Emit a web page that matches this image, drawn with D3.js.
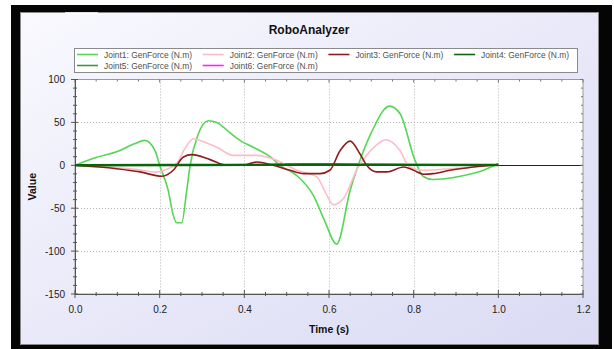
<!DOCTYPE html>
<html>
<head>
<meta charset="utf-8">
<script src="https://cdn.jsdelivr.net/npm/d3@7"></script>
<style>
body{margin:0;background:#fff;}
svg{display:block;font-family:"Liberation Sans",Arial,sans-serif;}
</style>
</head>
<body>
<div id="main_div"></div>
<script>
// series (time in s, value in N.m)
let joint1Time=[0,0.05,0.10,0.14,0.165,0.189,0.20,0.22,0.232,0.24,0.252,0.264,0.272,0.29,0.315,0.335,0.366,0.39,0.429,0.461,0.484,0.524,0.563,0.59,0.618,0.65,0.669,0.70,0.743,0.768,0.803,0.823,0.846,0.91,0.965,1.0];
let joint1Value=[0,9,16,25,29,17,0,-29,-58,-67,-67,-29,0,35,52,50,38,29,19,10,0,-12,-35,-65,-92,-29,0,38,69,60,6,-13,-16.6,-12.8,-5.8,2];

let joint2Time=[0,0.1,0.15,0.19,0.215,0.24,0.26,0.28,0.3,0.335,0.374,0.43,0.476,0.524,0.571,0.595,0.61,0.634,0.669,0.70,0.735,0.768,0.79,0.823,0.886,1.0];
let joint2Value=[0,-3,-5,-8,-5,2,20,31,28,21,11.6,11.6,5.8,-5.8,-13.5,-35,-46,-38.7,-2,18,29.8,17,-2,-5.8,-4,1];

let joint3Time=[0,0.098,0.154,0.205,0.232,0.256,0.276,0.319,0.358,0.397,0.43,0.468,0.508,0.54,0.579,0.602,0.626,0.65,0.673,0.689,0.713,0.737,0.776,0.8,0.823,0.846,0.886,0.941,1.0];
let joint3Value=[0,-4,-7.7,-12.8,-5.8,9.7,12.4,6.6,0,0,3.9,0,-5.8,-9.7,-9.7,-5.8,17,28.2,13.5,0,-7.7,-7.7,-2,-5.8,-10.4,-9.7,-5.8,-2,1];

let joint4Time=[0,0.25,0.5,0.75,1.0];
let joint4Value=[0,0.4,0.6,0.5,0.4];

let joint5Time=[0,0.3,0.45,0.55,0.65,0.8,1.0];
let joint5Value=[0,0.5,1,1.8,1.5,1,0.5];

let joint6Time=[0,0.3,0.5,0.64,0.7,0.85,1.0];
let joint6Value=[0,0.3,0.5,0.8,0.6,0.4,0.3];

let legendNames=["Joint1: GenForce (N.m)","Joint2: GenForce (N.m)","Joint3: GenForce (N.m)","Joint4: GenForce (N.m)","Joint5: GenForce (N.m)","Joint6: GenForce (N.m)"];
let lineColors=["#55d655","#ffbcc8","#8e1c1c","#0a640a","#3a9a3a","#ff22ff"];

let xTicks=[0,0.2,0.4,0.6,0.8,1.0,1.2];
let yTicks=[-150,-100,-50,0,50,100];

let xScale,yScale;
let plotBox={left:75,right:583,top:79.5,bottom:294};

chart();

function chart(){
    createSVG();
    drawFrame();
    drawGrid();
    drawAxes();
    drawLines();
    drawLegend();
    drawLabels();
}

function createSVG(){
    d3.select("#main_div")
      .append("svg")
      .attr("width",614)
      .attr("height",349)
      .attr("id","main_svg");
}

function drawFrame(){
    let svg=d3.select("#main_svg");
    let defs=svg.append("defs");
    let grad=defs.append("linearGradient")
        .attr("id","panelGrad")
        .attr("x1","0").attr("y1","0").attr("x2","1").attr("y2","1");
    grad.append("stop").attr("offset","0").attr("stop-color","#f9f9fe");
    grad.append("stop").attr("offset","0.5").attr("stop-color","#e9e9f9");
    grad.append("stop").attr("offset","1").attr("stop-color","#dadaf4");

    /**black outer frame */
    svg.append("rect")
        .attr("x",11).attr("y",5)
        .attr("width",601).attr("height",344)
        .attr("fill","#050505");

    /**panel */
    svg.append("rect")
        .attr("x",20.5).attr("y",12.5)
        .attr("width",578).attr("height",332)
        .attr("fill","url(#panelGrad)")
        .attr("stroke","#8a8a8a");

    svg.append("line")
        .attr("x1",65).attr("x2",98)
        .attr("y1",13).attr("y2",13)
        .attr("stroke","#ffffff").attr("stroke-width",1.5);

    /**plot area */
    svg.append("rect")
        .attr("x",plotBox.left).attr("y",plotBox.top)
        .attr("width",plotBox.right-plotBox.left)
        .attr("height",plotBox.bottom-plotBox.top)
        .attr("fill","#ffffff")
        .attr("stroke","#9a9a9a");
}

function drawGrid(){
    xScale=d3.scaleLinear().domain([0,1.2]).range([plotBox.left,plotBox.right]);
    yScale=d3.scaleLinear().domain([-150,100]).range([plotBox.bottom,plotBox.top]);

    let grid=d3.select("#main_svg").append("g").attr("id","grid");

    grid.selectAll(".vgrid")
        .data(xTicks.filter(function(d){return d>0&&d<1.2;}))
        .enter().append("line")
        .attr("class","vgrid")
        .attr("x1",function(d){return Math.round(xScale(d))+0.5;})
        .attr("x2",function(d){return Math.round(xScale(d))+0.5;})
        .attr("y1",plotBox.top).attr("y2",plotBox.bottom)
        .attr("stroke","#b4b4b4")
        .attr("stroke-dasharray","1,2");

    grid.selectAll(".hgrid")
        .data(yTicks.filter(function(d){return d>-150&&d<100&&d!=0;}))
        .enter().append("line")
        .attr("class","hgrid")
        .attr("x1",plotBox.left).attr("x2",plotBox.right)
        .attr("y1",function(d){return Math.round(yScale(d))+0.5;})
        .attr("y2",function(d){return Math.round(yScale(d))+0.5;})
        .attr("stroke","#b4b4b4")
        .attr("stroke-dasharray","1,2");

    /**zero line */
    grid.append("line")
        .attr("x1",plotBox.left).attr("x2",plotBox.right)
        .attr("y1",Math.round(yScale(0))+0.5)
        .attr("y2",Math.round(yScale(0))+0.5)
        .attr("stroke","#222");
}

function drawAxes(){
    let svg=d3.select("#main_svg");
    let xMinor=d3.range(0,1.2001,0.05);
    let yMinor=d3.range(-150,100.001,10);

    /**bottom axis, ticks crossing the line */
    let xAxis=d3.axisBottom(xScale).tickValues(xTicks).tickFormat(function(d){return d.toFixed(1);}).tickSize(0).tickPadding(12);
    let xg=svg.append("g")
        .attr("class","axis")
        .attr("transform","translate(0,"+plotBox.bottom+")")
        .call(xAxis);
    xg.select(".domain").attr("stroke","#555");
    xg.selectAll("text").style("font-size","10px").attr("fill","#222");

    svg.append("g").selectAll("line")
        .data(xMinor).enter().append("line")
        .attr("x1",function(d){return xScale(d);})
        .attr("x2",function(d){return xScale(d);})
        .attr("y1",function(d,i){return plotBox.bottom-(i%4==0?4:2);})
        .attr("y2",function(d,i){return plotBox.bottom+(i%4==0?4:2);})
        .attr("stroke","#555");

    /**top ticks */
    svg.append("g").selectAll("line")
        .data(xMinor).enter().append("line")
        .attr("x1",function(d){return xScale(d);})
        .attr("x2",function(d){return xScale(d);})
        .attr("y1",plotBox.top)
        .attr("y2",function(d,i){return plotBox.top+(i%4==0?3:2);})
        .attr("stroke","#777");

    /**left axis */
    let yAxis=d3.axisLeft(yScale).tickValues(yTicks).tickFormat(function(d){return String(d);}).tickSize(0).tickPadding(10);
    let yg=svg.append("g")
        .attr("class","axis")
        .attr("transform","translate("+plotBox.left+",0)")
        .call(yAxis);
    yg.select(".domain").attr("stroke","#555");
    yg.selectAll("text").style("font-size","10px").attr("fill","#222");

    svg.append("g").selectAll("line")
        .data(yMinor).enter().append("line")
        .attr("y1",function(d){return yScale(d);})
        .attr("y2",function(d){return yScale(d);})
        .attr("x1",function(d){return plotBox.left-(d%50==0?4:2);})
        .attr("x2",function(d){return plotBox.left+(d%50==0?3:2);})
        .attr("stroke","#555");

    /**right ticks */
    svg.append("g").selectAll("line")
        .data(yMinor).enter().append("line")
        .attr("y1",function(d){return yScale(d);})
        .attr("y2",function(d){return yScale(d);})
        .attr("x1",function(d){return plotBox.right-(d%50==0?3:2);})
        .attr("x2",plotBox.right)
        .attr("stroke","#777");
}

function drawLines(){
    let times=[joint1Time,joint2Time,joint3Time,joint4Time,joint5Time,joint6Time];
    let values=[joint1Value,joint2Value,joint3Value,joint4Value,joint5Value,joint6Value];
    let widths=[1.6,1.6,1.6,2.4,1.6,1.4];
    let order=[5,4,0,1,2,3];

    let line=d3.line()
        .x(function(d){return xScale(d[0]);})
        .y(function(d){return yScale(d[1]);})
        .curve(d3.curveMonotoneX);

    let plot=d3.select("#main_svg").append("g").attr("id","plots");
    order.forEach(function(i){
        plot.append("path")
            .datum(d3.zip(times[i],values[i]))
            .attr("d",line)
            .attr("fill","none")
            .attr("stroke",lineColors[i])
            .attr("stroke-width",widths[i])
            .attr("stroke-linejoin","round");
    });
}

function drawLegend(){
    let svg=d3.select("#main_svg");
    svg.append("rect")
        .attr("x",74.5).attr("y",48.5)
        .attr("width",503).attr("height",24)
        .attr("fill","#ffffff")
        .attr("stroke","#8a8a8a");

    let items=svg.append("g").selectAll("g")
        .data(legendNames).enter().append("g")
        .attr("transform",function(d,i){
            return "translate("+(77+(i%4)*125.7)+","+(i<4?54.5:65.5)+")";
        });

    items.append("line")
        .attr("x1",0).attr("x2",21)
        .attr("stroke",function(d,i){return lineColors[i];})
        .attr("stroke-width",1.6);

    items.append("text")
        .attr("x",27).attr("y",3)
        .attr("textLength",88)
        .attr("lengthAdjust","spacingAndGlyphs")
        .style("font-size","9px")
        .attr("fill","#505050")
        .text(function(d){return d;});
}

function drawLabels(){
    let svg=d3.select("#main_svg");
    svg.append("text")
        .attr("x",309).attr("y",34)
        .attr("text-anchor","middle")
        .style("font-size","12px").style("font-weight","bold")
        .attr("fill","#111")
        .text("RoboAnalyzer");

    svg.append("text")
        .attr("x",(plotBox.left+plotBox.right)/2).attr("y",333)
        .attr("text-anchor","middle")
        .style("font-size","10.5px").style("font-weight","bold")
        .attr("fill","#111")
        .text("Time (s)");

    svg.append("text")
        .attr("transform","translate(36,"+((plotBox.top+plotBox.bottom)/2)+") rotate(-90)")
        .attr("text-anchor","middle")
        .style("font-size","10.5px").style("font-weight","bold")
        .attr("fill","#111")
        .text("Value");
}
</script>
</body>
</html>
